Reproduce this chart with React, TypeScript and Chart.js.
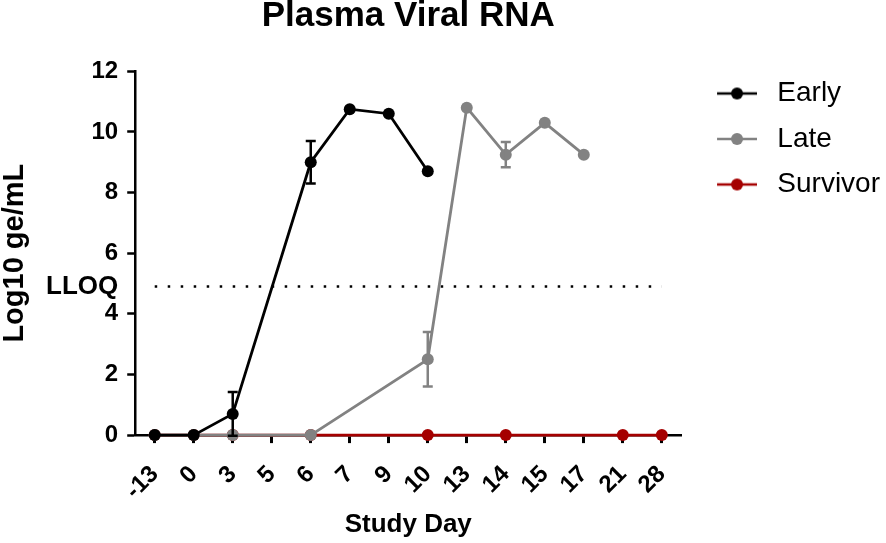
import React, { useEffect, useRef } from 'react'
import Chart, { ChartConfiguration, Plugin } from 'chart.js/auto'

const days = ['-13', '0', '3', '5', '6', '7', '9', '10', '13', '14', '15', '17', '21', '28']

const earlyValues = [0, 0, 0.7, null, 9.0, 10.75, 10.6, 8.7, null, null, null, null, null, null]
const earlyErrors = [null, null, 0.72, null, 0.7, null, null, null, null, null, null, null, null, null]

const lateValues = [0, 0, 0, null, 0, null, null, 2.5, 10.8, 9.25, 10.3, 9.25, null, null]
const lateErrors = [null, null, null, null, null, null, null, 0.9, null, 0.42, null, null, null, null]

const survivorValues = [0, 0, 0, null, 0, null, null, 0, null, 0, null, null, 0, 0]

const yTicks = [0, 2, 4, 6, 8, 10, 12]
const lloq = 4.9

const FONT = 'Arial, "Liberation Sans", sans-serif'

// short line with a dot for the legend, left part kept blank as a gap
const legendMark = (color: string) => {
  const c = document.createElement('canvas')
  c.width = 52
  c.height = 14
  const g = c.getContext('2d')!
  g.strokeStyle = color
  g.lineWidth = 2.5
  g.beginPath()
  g.moveTo(12, 7)
  g.lineTo(52, 7)
  g.stroke()
  g.fillStyle = color
  g.beginPath()
  g.arc(32, 7, 6, 0, Math.PI * 2)
  g.fill()
  return c
}

const errorBars: Plugin<'line'> = {
  id: 'errorBars',
  afterDatasetDraw(chart, args) {
    const ds: any = chart.data.datasets[args.index]
    if (!ds.errors) return
    const meta = chart.getDatasetMeta(args.index)
    const y = chart.scales.y
    const ctx = chart.ctx
    ctx.save()
    ctx.strokeStyle = ds.borderColor
    ctx.lineWidth = 2.5
    ds.errors.forEach((e: number | null, i: number) => {
      const v = ds.data[i]
      if (e == null || v == null) return
      const x = meta.data[i].x
      const top = y.getPixelForValue(v + e)
      const bot = y.getPixelForValue(v - e)
      ctx.beginPath()
      ctx.moveTo(x, top)
      ctx.lineTo(x, bot)
      ctx.moveTo(x - 5, top)
      ctx.lineTo(x + 5, top)
      ctx.moveTo(x - 5, bot)
      ctx.lineTo(x + 5, bot)
      ctx.stroke()
    })
    ctx.restore()
  },
}

const series = (label: string, data: (number | null)[], color: string, errors?: (number | null)[]) => ({
  label,
  data,
  errors,
  borderColor: color,
  backgroundColor: color,
  borderWidth: 2.8,
  pointRadius: 6,
  pointHoverRadius: 6,
  pointBorderWidth: 0,
  spanGaps: true,
  clip: false as const,
})

const App = () => {
  const chartRef = useRef<HTMLCanvasElement>(null)
  const chartInstance = useRef<Chart>()

  useEffect(() => {
    if (!chartRef.current) return
    Chart.defaults.color = '#000'
    Chart.defaults.font.family = FONT
    const marks: Record<string, HTMLCanvasElement> = {
      Early: legendMark('#000000'),
      Late: legendMark('#828282'),
      Survivor: legendMark('#a50000'),
    }
    const config: ChartConfiguration<'line', (number | null)[], string> = {
      type: 'line',
      data: {
        labels: days,
        datasets: [
          series('Early', earlyValues, '#000000', earlyErrors),
          series('Late', lateValues, '#828282', lateErrors),
          series('Survivor', survivorValues, '#a50000'),
          {
            label: 'LLOQ',
            data: days.map(() => lloq),
            borderColor: '#000',
            borderWidth: 2.5,
            borderDash: [2.5, 10.5],
            pointRadius: 0,
            pointHoverRadius: 0,
          },
        ] as any,
      },
      options: {
        animation: false,
        responsive: true,
        maintainAspectRatio: false,
        layout: { padding: { left: 0, right: -4, top: 0, bottom: 0 } },
        plugins: {
          tooltip: { enabled: false },
          title: {
            display: true,
            text: 'Plasma Viral RNA',
            fullSize: false,
            font: { size: 35, weight: 'bold', lineHeight: 0.95 },
            padding: { top: 0, bottom: 38 },
          },
          legend: {
            position: 'right',
            align: 'start',
            title: {
              display: true,
              text: ' ',
              font: { size: 10 },
              padding: { top: 50, bottom: 0 },
            },
            labels: {
              usePointStyle: true,
              pointStyleWidth: 64.5,
              padding: 17.5,
              font: { size: 28 },
              filter: (item) => item.text !== 'LLOQ',
              generateLabels: (chart) =>
                Chart.defaults.plugins.legend.labels.generateLabels(chart).map((l) => ({
                  ...l,
                  pointStyle: marks[l.text],
                })),
            },
          },
        },
        scales: {
          x: {
            offset: true,
            grid: {
              display: true,
              offset: false,
              drawOnChartArea: false,
              drawTicks: true,
              tickLength: 8,
              tickWidth: 3,
              tickColor: '#000',
            },
            border: { display: true, color: '#000', width: 2.5 },
            ticks: {
              autoSkip: false,
              minRotation: 45,
              maxRotation: 45,
              padding: 17,
              font: { size: 24, weight: 'bold' },
            },
            title: {
              display: true,
              text: 'Study Day',
              font: { size: 26, weight: 'bold', lineHeight: 1 },
              padding: { top: -10, bottom: 5 },
            },
          },
          y: {
            min: 0,
            max: 12,
            afterBuildTicks: (axis) => {
              axis.ticks = [...yTicks.map((v) => ({ value: v })), { value: lloq }].sort((a, b) => a.value - b.value)
            },
            grid: {
              display: true,
              drawOnChartArea: false,
              drawTicks: true,
              tickLength: 8,
              tickWidth: 2.5,
              tickColor: (c: any) => (c.tick && c.tick.value === lloq ? 'rgba(0,0,0,0)' : '#000'),
            },
            border: { display: true, color: '#000', width: 2.5 },
            ticks: {
              padding: 9,
              font: (c: any) => ({ size: c.tick && c.tick.value === lloq ? 26 : 24, weight: 'bold' }),
              callback: (v) => (v === lloq ? 'LLOQ' : String(v)),
            },
            title: {
              display: true,
              text: 'Log10 ge/mL',
              font: { size: 29, weight: 'bold', lineHeight: 1 },
              padding: { top: 0, bottom: 8 },
            },
          },
        },
      },
      plugins: [errorBars],
    }
    chartInstance.current = new Chart(chartRef.current, config)

    return () => {
      if (chartInstance.current) {
        chartInstance.current.destroy()
      }
    }
  }, [])

  return (
    <div style={{ position: 'absolute', left: 0, top: 0, width: 886, height: 543, background: '#fff' }}>
      <canvas ref={chartRef} />
    </div>
  )
}

export default App
